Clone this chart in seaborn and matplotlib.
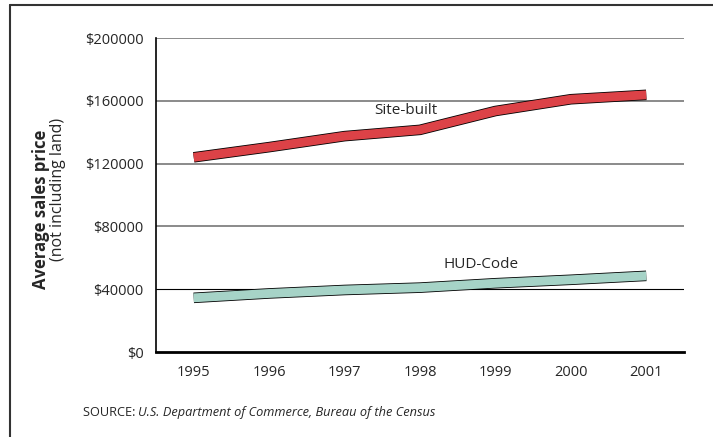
import matplotlib
matplotlib.use("Agg")
import matplotlib.pyplot as plt
import matplotlib.patheffects as pe
import seaborn as sns
import pandas as pd

years = [1995, 1996, 1997, 1998, 1999, 2000, 2001]
site_built = [124000, 130500, 137500, 141500, 153500, 161000, 163800]
hud_code = [34500, 37300, 39500, 41000, 43800, 46000, 48500]
y_ticks = [0, 40000, 80000, 120000, 160000, 200000]
y_labels = ["$0", "$40000", "$80000", "$120000", "$160000", "$200000"]

df = pd.DataFrame({"year": years, "Site-built": site_built, "HUD-Code": hud_code})

sns.set_style("white")
plt.rcParams["font.family"] = ["Open Sans", "DejaVu Sans"]

fig = plt.figure(figsize=(7.13, 4.37), dpi=100)
ax = fig.add_axes([0.2188, 0.1945, 0.7405, 0.7185])

# gridlines first so bands sit on top
for v in y_ticks[1:]:
    col = "black" if v == 40000 else "#777777"
    lw = 0.8 if v == 40000 else 1.2
    ax.axhline(v, color=col, lw=lw, zorder=1)

series = [("Site-built", "#dc4247"), ("HUD-Code", "#a6d3c7")]
for name, color in series:
    sns.lineplot(data=df, x="year", y=name, ax=ax, color=color, lw=6.4,
                 solid_capstyle="butt", solid_joinstyle="miter", zorder=3,
                 path_effects=[pe.Stroke(linewidth=7.6, foreground="black",
                                         capstyle="butt"), pe.Normal()])

ax.text(1997.81, 154000, "Site-built", fontsize=11, ha="center", va="center")
ax.text(1998.81, 56000, "HUD-Code", fontsize=11, ha="center", va="center")

ax.set_xlim(1994.5, 2001.5)
ax.set_ylim(0, 200000)
ax.set_xticks(years)
ax.set_xticklabels([str(y) for y in years], fontsize=10.5)
ax.set_yticks(y_ticks)
ax.set_yticklabels(y_labels, fontsize=10.5)
ax.tick_params(axis="x", direction="in", length=7, width=1.5, pad=9, color="black")
ax.tick_params(axis="y", length=0, pad=9)
ax.set_xlabel("")
ax.set_ylabel("")

for side in ["top", "right"]:
    ax.spines[side].set_visible(False)
ax.spines["left"].set_color("black")
ax.spines["left"].set_linewidth(1.2)
ax.spines["bottom"].set_color("black")
ax.spines["bottom"].set_linewidth(2)

fig.text(0.057, 0.522, "Average sales price", rotation=90, fontsize=12,
         fontweight="bold", ha="center", va="center")
fig.text(0.081, 0.567, "(not including land)", rotation=90, fontsize=11.5,
         ha="center", va="center")

src = fig.text(0.116, 0.055, "SOURCE: ", fontsize=9.2, ha="left", va="center")
fig.canvas.draw()
bb = src.get_window_extent()
fig.text(bb.x1 / fig.bbox.width, 0.055,
         "U.S. Department of Commerce, Bureau of the Census",
         fontsize=9.2, style="italic", ha="left", va="center")

# outer frame (left and top edges)
fig.add_artist(plt.Line2D([0.014, 0.014], [0, 0.989], color="#333333", lw=1.5,
                          transform=fig.transFigure))
fig.add_artist(plt.Line2D([0.014, 1.0], [0.989, 0.989], color="#333333", lw=1.5,
                          transform=fig.transFigure))

fig.savefig("out.png", dpi=100)
